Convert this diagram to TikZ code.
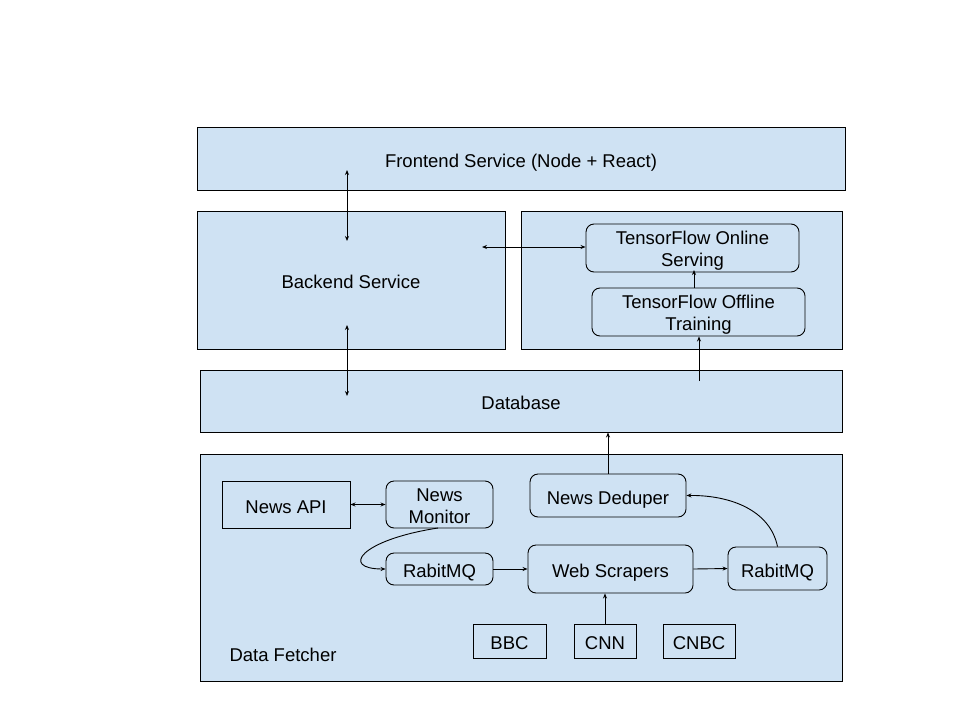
\documentclass[tikz,border=0pt]{standalone}
\usepackage{fontspec}
\setmainfont{Liberation Sans}
\usetikzlibrary{arrows.meta}
\definecolor{boxfill}{HTML}{CFE2F3}
\tikzset{
  box/.style={draw=black, line width=0.9pt, fill=boxfill, inner sep=0pt, align=center, font=\fontsize{18.5}{22}\selectfont, text height=17.5pt, text depth=0pt},
  two/.style={text height=37pt, text depth=0pt},
  rbox/.style={box, rounded corners=8pt},
  conn/.style={line width=0.9pt, -{Stealth[length=5pt,width=4pt]}},
  biconn/.style={line width=0.9pt, {Stealth[length=5pt,width=4pt]}-{Stealth[length=5pt,width=4pt]}},
  plain/.style={inner sep=0pt, font=\fontsize{18.5}{22}\selectfont}
}
\begin{document}
\begin{tikzpicture}[x=1pt,y=-1pt]
\useasboundingbox[fill=white] (0,0) rectangle (960,720);
% containers
\node[box, minimum width=648pt, minimum height=63pt] (front) at (521,158.5) {Frontend Service (Node + React)};
\node[box, minimum width=308pt, minimum height=138pt] (back) at (351,280) {Backend Service};
\node[box, minimum width=321pt, minimum height=138pt] (ml) at (681.5,280) {};
\node[box, minimum width=642pt, minimum height=62pt] (db) at (521,401) {Database};
\node[box, minimum width=642pt, minimum height=227pt] (df) at (521,567.5) {};
\node[plain] (dflabel) at (283,655) {Data Fetcher};
% ML
\node[rbox, two, minimum width=213pt, minimum height=48pt] (tfon) at (692.5,248) {TensorFlow Online\\Serving};
\node[rbox, two, minimum width=213pt, minimum height=48pt] (tfoff) at (698.5,312) {TensorFlow Offline\\Training};
% data fetcher
\node[box, minimum width=128pt, minimum height=47pt] (api) at (286,504.5) {News API};
\node[rbox, two, minimum width=107pt, minimum height=47pt] (mon) at (439.5,504.5) {News\\Monitor};
\node[rbox, minimum width=107pt, minimum height=32pt] (rmql) at (439.5,569) {RabitMQ};
\node[rbox, minimum width=165pt, minimum height=48pt] (ws) at (610.5,569) {Web Scrapers};
\node[rbox, minimum width=99pt, minimum height=43pt] (rmqr) at (777.5,568.5) {RabitMQ};
\node[rbox, minimum width=156pt, minimum height=43pt] (nd) at (608,495.5) {News Deduper};
\node[box, minimum width=73pt, minimum height=34pt] (bbc) at (509.5,641) {BBC};
\node[box, minimum width=62pt, minimum height=34pt] (cnn) at (605,641) {CNN};
\node[box, minimum width=72pt, minimum height=34pt] (cnbc) at (699,641) {CNBC};
% connector end coordinates
\coordinate (fb1) at (347,170);
\coordinate (fb2) at (347,241);
\coordinate (bd1) at (347,325);
\coordinate (bd2) at (347,396);
\coordinate (bt1) at (482,247);
\coordinate (dbt) at (699,381);
% connectors
\draw[biconn] (fb1) -- (fb2);
\draw[biconn] (bd1) -- (bd2);
\draw[biconn] (bt1) -- (tfon.west |- bt1);
\draw[conn] (tfoff.north -| 694,0) -- (694,270);
\draw[conn] (dbt) -- (dbt |- tfoff.south);
\draw[conn] (nd.north) -- (nd.north |- db.south);
\draw[biconn] (api.east) -- (mon.west);
\draw[conn] (438,528) .. controls (360,540) and (340,569) .. (rmql.west);
\draw[conn] (rmql.east) -- (ws.west);
\draw[conn] (ws.east) -- (rmqr.west);
\draw[conn] (rmqr.north) .. controls (770,510) and (730,495) .. (nd.east);
\draw[conn] (cnn.north) -- (cnn.north |- ws.south);
\end{tikzpicture}
\end{document}
